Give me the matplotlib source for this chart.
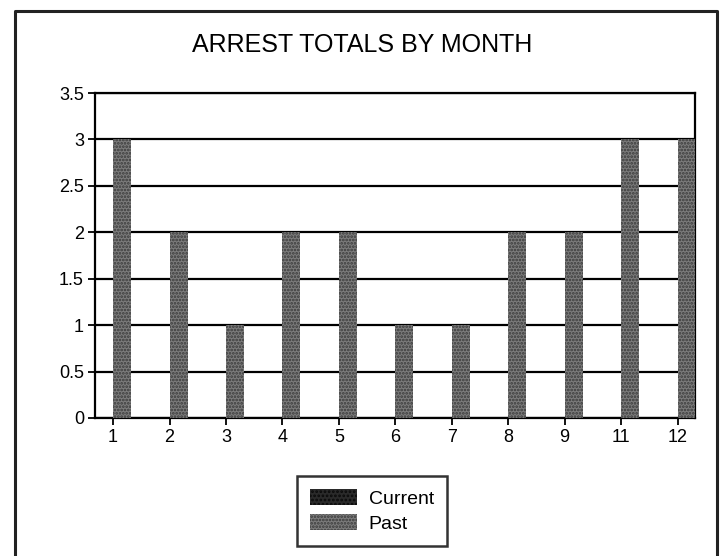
import matplotlib
matplotlib.use('Agg')
import matplotlib.pyplot as plt
from matplotlib.lines import Line2D
import numpy as np

plt.rcParams['font.family'] = ['Liberation Sans', 'DejaVu Sans']
plt.rcParams['hatch.linewidth'] = 1.3

# Data
months = ['1', '2', '3', '4', '5', '6', '7', '8', '9', '11', '12']
current = [0, 0, 0, 0, 0, 0, 0, 0, 0, 0, 0]
past = [3, 2, 1, 2, 2, 1, 1, 2, 2, 3, 3]

cur_color, cur_dots = '#2a2a2a', '#0a0a0a'
past_color, past_dots = '#7c7c7c', '#3a3a3a'

fig = plt.figure(figsize=(7.2, 5.56), dpi=100)
W, H = 720, 556
ax = fig.add_axes([95 / W, 1 - 418 / H, 600 / W, 325 / H])

x = np.arange(len(months))
w = 0.32
ax.bar(x - w / 2, current, w, color=cur_color, hatch='....', edgecolor=cur_dots,
       linewidth=0, label='Current')
ax.bar(x + w / 2, past, w, color=past_color, hatch='.....', edgecolor=past_dots,
       linewidth=0, label='Past', zorder=3)

ax.set_ylim(0, 3.5)
ax.set_yticks(np.arange(0, 3.51, 0.5))
ax.set_yticklabels(['0', '0.5', '1', '1.5', '2', '2.5', '3', '3.5'])
ax.set_xlim(-0.32, len(months) - 1 + 0.31)
ax.set_xticks(x)
ax.set_xticklabels(months)
ax.yaxis.grid(True, color='black', linewidth=1.6)
ax.set_axisbelow(True)
for s in ax.spines.values():
    s.set_linewidth(1.6)
ax.tick_params(axis='both', labelsize=13, length=5, width=1.3, direction='out', pad=3)

fig.text(362 / W, 1 - 45 / H, 'ARREST TOTALS BY MONTH', ha='center', va='center', fontsize=18)

# legend
handles = [plt.Rectangle((0, 0), 1, 1, facecolor=cur_color, hatch='....', edgecolor=cur_dots, linewidth=0),
           plt.Rectangle((0, 0), 1, 1, facecolor=past_color, hatch='.....', edgecolor=past_dots, linewidth=0)]
leg = fig.legend(handles=handles, labels=['Current', 'Past'], loc='center',
                 bbox_to_anchor=(372 / W, 1 - 511 / H),
                 fontsize=14, frameon=True, fancybox=False, edgecolor='black',
                 handlelength=2.4, handleheight=0.9, borderpad=0.7, labelspacing=0.3,
                 borderaxespad=0, handletextpad=0.6)
leg.get_frame().set_linewidth(1.8)

# outer frame
fig.add_artist(Line2D([15 / W, 15 / W, 717 / W, 717 / W], [0, 1 - 11 / H, 1 - 11 / H, 0],
                      color='#222222', linewidth=2.2, transform=fig.transFigure))

fig.savefig('out.png', dpi=100, facecolor='white')
